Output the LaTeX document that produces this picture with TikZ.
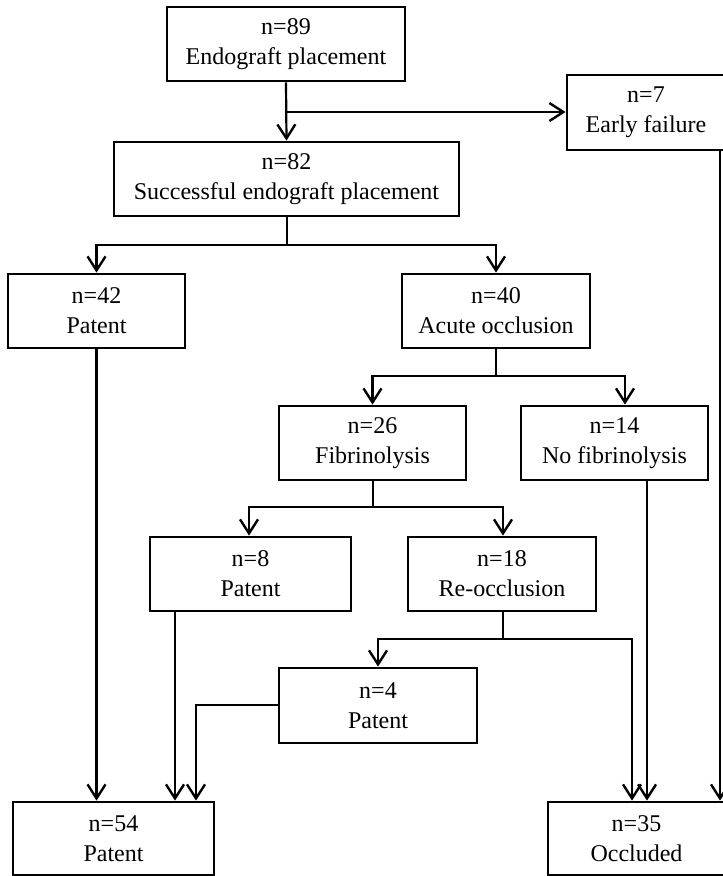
\documentclass[tikz,border=0pt]{standalone}
\usepackage{fontspec}
\setmainfont{Liberation Serif}
\usetikzlibrary{arrows.meta}
\begin{document}
\begin{tikzpicture}[x=1pt,y=-1pt,
  box/.style={draw, line width=2.8pt, inner sep=0pt, align=center,
    font=\fontsize{24}{30}\selectfont, minimum height=74pt},
  conn/.style={line width=2.2pt},
  arr/.style={conn, -{Straight Barb[length=14pt,width=18pt,line width=2.4pt]}}]
\useasboundingbox (0,0) rectangle (723,876);
\fill[white] (0,0) rectangle (723,876);
% boxes
\node[box, minimum width=238pt] (b89) at (286,44) {n=89\\Endograft placement};
\node[box, minimum width=158pt, minimum height=75pt] (bef) at (646,112.5) {n=7\\Early failure};
\node[box, minimum width=345pt] (b82) at (286.5,179) {n=82\\Successful endograft placement};
\node[box, minimum width=177pt] (b42) at (96.5,311) {n=42\\Patent};
\node[box, minimum width=188pt] (b40) at (496,311) {n=40\\Acute occlusion};
\node[box, minimum width=187pt] (b26) at (372.5,443) {n=26\\Fibrinolysis};
\node[box, minimum width=187pt] (b14) at (614.5,443) {n=14\\No fibrinolysis};
\node[box, minimum width=201pt] (b8) at (250.5,574) {n=8\\Patent};
\node[box, minimum width=188pt] (b18) at (502,574) {n=18\\Re-occlusion};
\node[box, minimum width=198pt, minimum height=75pt] (b4) at (378,705.5) {n=4\\Patent};
\node[box, minimum width=201pt, minimum height=73pt] (b54) at (113.5,838.5) {n=54\\Patent};
\node[box, minimum width=177pt, minimum height=73pt] (b35) at (636.5,838.5) {n=35\\Occluded};
% junctions and drop points
\coordinate (j1) at (286,112);
\coordinate (j2) at (287,245);
\coordinate (j3) at (496,376);
\coordinate (j4) at (373,507);
\coordinate (j5) at (503,639);
\coordinate (j6) at (196,705);
\coordinate (d14) at (647,480);
\coordinate (def) at (720,150);
\coordinate (d8) at (175,611);
% connectors
\draw[arr] (b89.south) -- (b82.north);
\draw[arr] (j1) -- (j1 -| bef.west);
\draw[conn] (b82.south -| j2) -- (j2);
\draw[arr] (j2) -| (b42.north);
\draw[arr] (j2) -| (b40.north);
\draw[conn] (b40.south) -- (j3);
\draw[arr] (j3) -| (b26.north);
\draw[arr] (j3) -| ([xshift=10.5pt]b14.north);
\draw[conn] (b26.south -| j4) -- (j4);
\draw[arr] (j4) -| ([xshift=-1.5pt]b8.north);
\draw[arr] (j4) -| ([xshift=1pt]b18.north);
\draw[conn] (b18.south -| j5) -- (j5);
\draw[arr] (j5) -| (b4.north);
\draw[arr] (j5) -| ([xshift=-4.5pt]b35.north);
\draw[arr] (d14) -- (d14 |- b35.north);
\draw[arr] (def) -- (def |- b35.north);
\draw[arr] (b42.south) -- (b42.south |- b54.north);
\draw[arr] (d8) -- (d8 |- b54.north);
\draw[arr] (b4.west |- j6) -- (j6) -- (j6 |- b54.north);
\end{tikzpicture}
\end{document}
